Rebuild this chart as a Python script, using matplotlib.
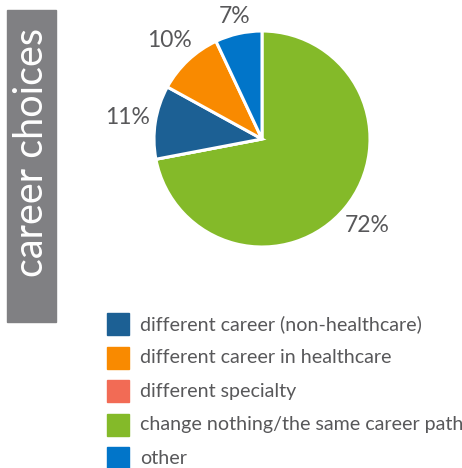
import matplotlib
matplotlib.use("Agg")
import numpy as np
import matplotlib.pyplot as plt
from matplotlib.patches import Rectangle

plt.rcParams['font.family'] = ['Lato', 'DejaVu Sans']

# data, in legend order
categories = ['different career (non-healthcare)', 'different career in healthcare',
              'different specialty', 'change nothing/the same career path', 'other']
shares = [11, 10, 0, 72, 7]
colors = ['#1c6094', '#f98a00', '#f26b55', '#84ba29', '#0175c9']
# order the slices go round the pie, clockwise from 12 o'clock
pie_order = [3, 2, 0, 1, 4]
title = 'career choices'
text_grey = '#58585a'

W, H = 462, 468
fig = plt.figure(figsize=(W / 100, H / 100), dpi=100)

def fx(px):
    return px / W

def fy(py):
    return 1 - py / H

# grey side banner
fig.patches.append(Rectangle((fx(7), fy(322)), 49 / W, 312 / H,
                             transform=fig.transFigure, color='#808083', zorder=0))
fig.text(fx(43), fy(277), title, rotation=90, rotation_mode='anchor',
         ha='left', va='baseline', color='white', fontsize=28.5)

# pie
cx, cy, r = 262, 139, 108
ax = fig.add_axes([fx(cx - r), fy(cy + r), 2 * r / W, 2 * r / H])
vals = [shares[i] for i in pie_order]
cols = [colors[i] for i in pie_order]
wedges, texts, autotexts = ax.pie(
    vals, colors=cols, startangle=90, counterclock=False,
    autopct=lambda p: f'{p:.0f}%' if p > 0.5 else '', pctdistance=1.2,
    wedgeprops=dict(edgecolor='white', linewidth=2.2),
    textprops=dict(color=text_grey, fontsize=16.5))
ax.set_xlim(-1, 1)
ax.set_ylim(-1, 1)
ax.set_aspect('equal')
ax.axis('off')

# push each label out so its box sits just off the rim
fig.canvas.draw()
renderer = fig.canvas.get_renderer()
for w, t in zip(wedges, autotexts):
    t.set_clip_on(False)
    if not t.get_text():
        continue
    ang = np.deg2rad((w.theta1 + w.theta2) / 2)
    bb = t.get_window_extent(renderer)
    hw = bb.width / 2 / r
    hh = bb.height / 2 / r
    d = 1.04 + hw * abs(np.cos(ang)) + hh * abs(np.sin(ang))
    t.set_position((d * np.cos(ang), d * np.sin(ang)))

# legend
row0, step, box = 324, 33.5, 22
for i, (lab, c) in enumerate(zip(categories, colors)):
    yc = row0 + i * step
    fig.patches.append(Rectangle((fx(107), fy(yc + box / 2)), box / W, box / H,
                                 transform=fig.transFigure, color=c))
    fig.text(fx(140), fy(yc), lab, ha='left', va='center',
             color=text_grey, fontsize=14.1)

fig.savefig('out.png', dpi=100)
